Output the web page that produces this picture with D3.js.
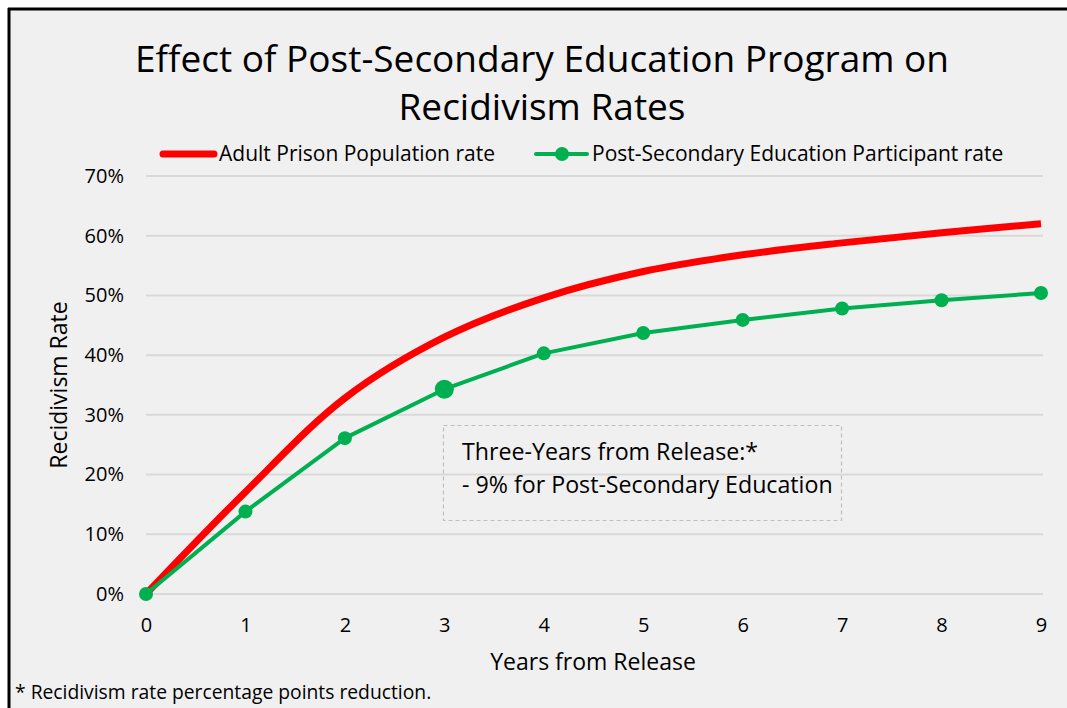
<!DOCTYPE html>
<html>
<head>
<meta charset="utf-8">
<script src="https://cdn.jsdelivr.net/npm/d3@7"></script>
<style>
  html, body { margin: 0; padding: 0; background: #ffffff; }
  svg { display: block; }
  text { font-family: "Open Sans", "Noto Sans", sans-serif; fill: #000; }
</style>
</head>
<body>
<script>
// ---- Data ----
const years = [0, 1, 2, 3, 4, 5, 6, 7, 8, 9];
const adultPrisonRate = [0, 17.1, 32.8, 43.0, 49.6, 54.0, 56.8, 58.8, 60.5, 62.0];
const postSecondaryRate = [0, 13.8, 26.1, 34.3, 40.3, 43.7, 45.9, 47.8, 49.2, 50.4];
const yTicks = [0, 10, 20, 30, 40, 50, 60, 70];
const seriesNames = ["Adult Prison Population rate", "Post-Secondary Education Participant rate"];
const titleLines = ["Effect of Post-Secondary Education Program on", "Recidivism Rates"];
const xAxisTitle = "Years from Release";
const yAxisTitle = "Recidivism Rate";
const noteLines = ["Three-Years from Release:*", "- 9% for Post-Secondary Education"];
const highlightYear = 3;
const footnote = "* Recidivism rate percentage points reduction.";

// ---- Layout ----
const W = 1067, H = 708;
const RED = "#ff0000", GREEN = "#00b050";

const svg = d3.select("body").append("svg").attr("width", W).attr("height", H);

// chart area background and border
svg.append("rect").attr("x", 9).attr("y", 9).attr("width", W - 9).attr("height", H - 9).attr("fill", "#f0f0f0");
svg.append("line").attr("x1", 9).attr("x2", 9).attr("y1", 8).attr("y2", H).attr("stroke", "#000").attr("stroke-width", 3);
svg.append("line").attr("x1", 8).attr("x2", W).attr("y1", 9).attr("y2", 9).attr("stroke", "#000").attr("stroke-width", 3);

const x = d3.scaleLinear().domain([0, 9]).range([146, 1041]);
const y = d3.scaleLinear().domain([0, 70]).range([594, 176]);

// gridlines
svg.append("g").selectAll("line").data(yTicks).join("line")
  .attr("x1", x(0)).attr("x2", x(9) + 2)
  .attr("y1", d => y(d)).attr("y2", d => y(d))
  .attr("stroke", "#d9d9d9").attr("stroke-width", 2);

// y axis
const yAxis = svg.append("g").attr("transform", `translate(${x(0) - 10},0)`)
  .call(d3.axisLeft(y).tickValues(yTicks).tickFormat(d => d + "%").tickSize(0).tickPadding(12));
yAxis.select(".domain").remove();
yAxis.selectAll("text").style("font-size", "20px").attr("font-family", null);

// x axis
const xAxis = svg.append("g").attr("transform", `translate(0,${y(0) + 20})`)
  .call(d3.axisBottom(x).tickValues(years).tickFormat(d3.format("d")).tickSize(0).tickPadding(4));
xAxis.select(".domain").remove();
xAxis.selectAll("text").style("font-size", "20px").attr("font-family", null);

// axis titles
svg.append("text").attr("x", 593).attr("y", 670).attr("text-anchor", "middle")
  .style("font-size", "23px").text(xAxisTitle);
svg.append("text").attr("transform", `translate(67,385) rotate(-90)`).attr("text-anchor", "middle")
  .style("font-size", "23px").text(yAxisTitle);

// title
svg.append("g").selectAll("text").data(titleLines).join("text")
  .attr("x", 542).attr("y", (d, i) => 72 + i * 48).attr("text-anchor", "middle")
  .style("font-size", "37px").text(d => d);

// annotation box
svg.append("rect").attr("x", 443.5).attr("y", 425.5).attr("width", 398).attr("height", 95)
  .attr("fill", "none").attr("stroke", "#bfbfbf").attr("stroke-width", 1.2).attr("stroke-dasharray", "4,3");
svg.append("g").selectAll("text").data(noteLines).join("text")
  .attr("x", 462).attr("y", (d, i) => 460 + i * 33)
  .style("font-size", "23.2px").text(d => d);

// lines
const redData = years.map((yr, i) => [yr, adultPrisonRate[i]]);
const greenData = years.map((yr, i) => [yr, postSecondaryRate[i]]);

svg.append("path").datum(redData)
  .attr("d", d3.line().x(d => x(d[0])).y(d => y(d[1])).curve(d3.curveCatmullRom.alpha(0.5)))
  .attr("fill", "none").attr("stroke", RED).attr("stroke-width", 7);

svg.append("path").datum(greenData)
  .attr("d", d3.line().x(d => x(d[0])).y(d => y(d[1])))
  .attr("fill", "none").attr("stroke", GREEN).attr("stroke-width", 4).attr("stroke-linejoin", "round");

svg.append("g").selectAll("circle").data(greenData).join("circle")
  .attr("cx", d => x(d[0])).attr("cy", d => y(d[1]))
  .attr("r", d => d[0] === highlightYear ? 9.5 : 7)
  .attr("fill", GREEN);

// legend
const lg = svg.append("g");
lg.append("line").attr("x1", 163).attr("x2", 214).attr("y1", 154).attr("y2", 154)
  .attr("stroke", RED).attr("stroke-width", 7).attr("stroke-linecap", "round");
lg.append("text").attr("x", 219).attr("y", 161).style("font-size", "21px").text(seriesNames[0]);
lg.append("line").attr("x1", 536).attr("x2", 587).attr("y1", 154).attr("y2", 154)
  .attr("stroke", GREEN).attr("stroke-width", 4).attr("stroke-linecap", "round");
lg.append("circle").attr("cx", 562).attr("cy", 154).attr("r", 7).attr("fill", GREEN);
lg.append("text").attr("x", 592).attr("y", 161).style("font-size", "21px").text(seriesNames[1]);

// footnote
svg.append("text").attr("x", 15).attr("y", 699).style("font-size", "19.3px").text(footnote);
</script>
</body>
</html>
